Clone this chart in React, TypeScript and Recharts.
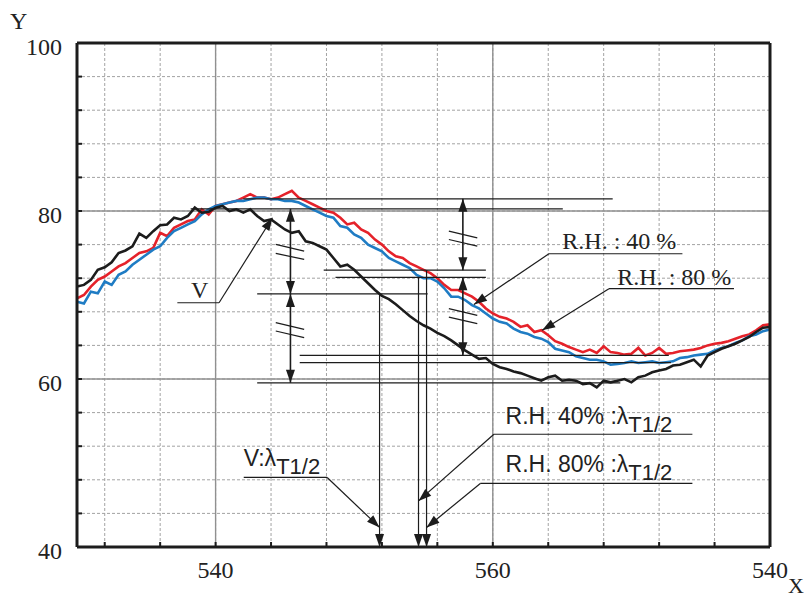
import { ComposedChart, Line, XAxis, YAxis, CartesianGrid, ReferenceLine } from 'recharts'

// sampling grid along X (every 0.5)
const X_VALUES = [
  530, 530.5, 531, 531.5, 532, 532.5, 533, 533.5, 534, 534.5,
  535, 535.5, 536, 536.5, 537, 537.5, 538, 538.5, 539, 539.5,
  540, 540.5, 541, 541.5, 542, 542.5, 543, 543.5, 544, 544.5,
  545, 545.5, 546, 546.5, 547, 547.5, 548, 548.5, 549, 549.5,
  550, 550.5, 551, 551.5, 552, 552.5, 553, 553.5, 554, 554.5,
  555, 555.5, 556, 556.5, 557, 557.5, 558, 558.5, 559, 559.5,
  560, 560.5, 561, 561.5, 562, 562.5, 563, 563.5, 564, 564.5,
  565, 565.5, 566, 566.5, 567, 567.5, 568, 568.5, 569, 569.5,
  570, 570.5, 571, 571.5, 572, 572.5, 573, 573.5, 574, 574.5,
  575, 575.5, 576, 576.5, 577, 577.5, 578, 578.5, 579, 579.5,
  580,
]

const V_VALUES = [
  71.0, 71.2, 71.8, 73.0, 73.3, 73.9, 75.0, 75.3, 75.8, 77.3,
  76.8, 77.6, 78.3, 78.4, 79.2, 79.0, 79.4, 80.4, 79.8, 79.9,
  80.4, 80.6, 80.0, 80.2, 79.8, 80.2, 79.4, 78.8, 79.0, 78.4,
  77.8, 77.4, 77.6, 76.4, 76.2, 75.8, 75.4, 74.4, 73.4, 73.6,
  73.0, 72.2, 71.4, 70.6, 69.9, 69.5, 68.9, 68.2, 67.5, 66.9,
  66.4, 66.0, 65.5, 65.1, 64.6, 64.0, 63.4, 62.9, 62.4, 62.5,
  61.8, 61.4, 61.2, 60.9, 60.7, 60.4, 60.1, 59.8, 60.2, 60.4,
  59.8, 59.9, 59.8, 59.4, 59.5, 59.0, 59.8, 59.6, 59.8, 60.0,
  59.6, 60.2, 60.4, 60.8, 61.0, 61.2, 61.6, 61.7, 62.0, 62.3,
  61.5, 62.8, 63.2, 63.6, 63.9, 64.2, 64.6, 65.0, 65.6, 66.1,
  66.2,
]

const RH40_VALUES = [
  69.6, 70.0, 71.0, 71.8, 72.2, 72.8, 73.4, 73.8, 74.4, 75.0,
  75.2, 75.6, 77.4, 77.0, 78.0, 78.4, 78.8, 79.0, 80.2, 79.6,
  80.6, 80.8, 81.0, 81.2, 81.6, 82.0, 81.6, 81.6, 81.4, 81.6,
  82.0, 82.4, 81.6, 81.2, 80.8, 80.4, 80.0, 79.8, 79.2, 78.4,
  78.6, 77.8, 77.4, 76.6, 76.0, 75.2, 74.6, 74.4, 73.8, 73.4,
  73.0, 72.6, 72.0, 71.2, 70.6, 70.6, 70.2, 69.8, 69.2, 68.4,
  67.8, 67.4, 67.2, 66.8, 66.2, 66.4, 65.6, 65.8, 65.2, 64.5,
  64.2, 63.8, 63.5, 63.2, 63.5, 63.1, 63.9, 63.2, 63.1, 62.9,
  63.0, 63.7, 62.8, 63.1, 63.7, 63.0, 63.1, 63.3, 63.4, 63.5,
  63.7, 64.0, 64.2, 64.3, 64.5, 64.8, 65.1, 65.3, 65.8, 66.4,
  66.5,
]

const RH80_VALUES = [
  69.2, 69.0, 70.4, 70.2, 71.6, 71.2, 72.4, 72.8, 73.6, 74.2,
  74.8, 75.4, 75.8, 76.8, 77.6, 78.0, 78.4, 78.8, 79.6, 80.2,
  80.6, 80.8, 81.0, 81.2, 81.2, 81.4, 81.6, 81.6, 81.4, 81.4,
  81.2, 81.2, 81.0, 80.6, 80.2, 79.8, 79.4, 79.2, 78.2, 78.0,
  77.2, 76.8, 76.0, 75.6, 75.2, 74.4, 74.0, 73.6, 73.2, 72.4,
  72.0, 72.0, 71.6, 70.8, 69.8, 69.8, 69.4, 68.8, 68.4, 67.8,
  67.2, 66.8, 66.6, 66.0, 65.6, 65.4, 65.0, 64.8, 64.4, 63.6,
  63.4, 63.2, 62.7, 62.5, 62.3, 62.3, 62.1, 61.7, 61.8, 61.9,
  62.1, 61.9, 62.0, 62.1, 61.9, 62.0, 62.1, 62.5, 62.6, 62.8,
  62.9, 63.0, 63.4, 63.7, 63.9, 64.3, 64.6, 65.1, 65.3, 65.7,
  65.9,
]

const X_TICKS = [
  532, 534, 536, 538, 540, 542, 544, 546, 548, 550, 552, 554, 556,
  558, 560, 562, 564, 566, 568, 570, 572, 574, 576, 578, 580,
]
const X_TICK_LABELS: Record<number, string> = { 540: '540', 560: '560', 580: '540' }
const Y_TICKS = [
  40, 42, 44, 46, 48, 50, 52, 54, 56, 58, 60, 62, 64, 66, 68, 70,
  72, 74, 76, 78, 80, 82, 84, 86, 88, 90, 92, 94, 96, 98, 100,
]
const Y_TICK_LABELS: Record<number, string> = { 40: '40', 60: '60', 80: '80', 100: '100' }

// annotation geometry, in data units
const LEVELS = [
  { y: 81.45, from: 542.0, to: 568.65 },
  { y: 80.26, from: 538.2, to: 565.05 },
  { y: 72.95, from: 547.8, to: 559.5 },
  { y: 72.1, from: 548.65, to: 559.5 },
  { y: 70.13, from: 543.0, to: 555.3 },
  { y: 62.82, from: 546.07, to: 572.7 },
  { y: 61.95, from: 546.07, to: 572.85 },
  { y: 59.55, from: 543.0, to: 569.2 },
]
const DROPS = [
  { x: 551.83, from: 70.13 },
  { x: 554.64, from: 72.1 },
  { x: 555.22, from: 72.95 },
]
const SPANS = [
  { x: 545.4, from: 80.26, to: 70.13 },
  { x: 545.4, from: 70.13, to: 59.55 },
  { x: 557.84, from: 81.45, to: 72.95 },
  { x: 557.84, from: 72.1, to: 62.82 },
]
const BREAKS = [
  [544.34, 76.02, 546.39, 75.22], [544.34, 74.95, 546.39, 74.24],
  [544.34, 66.71, 546.39, 65.91], [544.34, 65.71, 546.39, 64.92],
  [556.83, 77.6, 558.88, 76.81], [556.83, 76.61, 558.88, 75.81],
  [556.83, 68.37, 558.88, 67.57], [556.83, 67.37, 558.88, 66.59],
]

type Callout = {
  text: string
  sub?: string
  x1: number
  x2: number
  y: number
  tip: [number, number]
  leaderFromEnd: boolean
  serif: boolean
  dx: number
  lift: number
}

const CALLOUTS: Callout[] = [
  { text: 'V', x1: 537.24, x2: 540.25, y: 69.08, tip: [544.1, 79.2], leaderFromEnd: true, serif: true, dx: 13.7, lift: 5 },
  { text: 'R.H. : 40 %', x1: 564.05, x2: 573.68, y: 74.91, tip: [558.64, 68.88], leaderFromEnd: false, serif: true, dx: 13.4, lift: 5 },
  { text: 'R.H. : 80 %', x1: 568.38, x2: 577.4, y: 70.75, tip: [563.56, 65.79], leaderFromEnd: false, serif: true, dx: 8.4, lift: 3.5 },
  { text: 'V:λ', sub: 'T1/2', x1: 542.03, x2: 548.05, y: 48.28, tip: [551.83, 42.33], leaderFromEnd: true, serif: false, dx: 0, lift: 11.6 },
  { text: 'R.H. 40% :λ', sub: 'T1/2', x1: 560.08, x2: 574.4, y: 53.42, tip: [554.64, 45.49], leaderFromEnd: false, serif: false, dx: 11.7, lift: 10 },
  { text: 'R.H. 80% :λ', sub: 'T1/2', x1: 559.12, x2: 574.4, y: 47.58, tip: [555.22, 42.33], leaderFromEnd: false, serif: false, dx: 25, lift: 11 },
]

const INK = '#1c1c1c'
const SERIF = '"Liberation Serif", "DejaVu Serif", serif'
const SANS = '"Liberation Sans", Arial, sans-serif'

const data = X_VALUES.map((x, i) => ({
  x,
  v: V_VALUES[i],
  rh40: RH40_VALUES[i],
  rh80: RH80_VALUES[i],
}))

function headPoints(x1: number, y1: number, x2: number, y2: number, len: number, half: number) {
  const d = Math.hypot(x2 - x1, y2 - y1) || 1
  const ux = (x2 - x1) / d
  const uy = (y2 - y1) / d
  const bx = x2 - ux * len
  const by = y2 - uy * len
  return `${x2},${y2} ${bx - uy * half},${by + ux * half} ${bx + uy * half},${by - ux * half}`
}

const arrow = (both: boolean, width = 1.3) => (p: any) => (
  <g>
    <line x1={p.x1} y1={p.y1} x2={p.x2} y2={p.y2} stroke={INK} strokeWidth={width} />
    <polygon points={headPoints(p.x1, p.y1, p.x2, p.y2, 13, 4.5)} fill={INK} />
    {both && <polygon points={headPoints(p.x2, p.y2, p.x1, p.y1, 13, 4.5)} fill={INK} />}
  </g>
)

const calloutShape = (c: Callout) => (p: any) => (
  <g>
    <line x1={p.x1} y1={p.y1} x2={p.x2} y2={p.y2} stroke={INK} strokeWidth={1.2} />
    <text
      x={p.x1 + c.dx}
      y={p.y1 - c.lift}
      fill="#222"
      fontFamily={c.serif ? SERIF : SANS}
      fontSize={c.serif ? 24 : 23}
    >
      {c.text}
      {c.sub && (
        <tspan dy={8} fontSize={22}>
          {c.sub}
        </tspan>
      )}
    </text>
  </g>
)

const XTick = (props: any) => {
  const label = X_TICK_LABELS[props.payload.value]
  if (!label) return <g />
  return (
    <text x={props.x} y={props.y} dy={31} textAnchor="middle" fill="#222" fontFamily={SERIF} fontSize={24}>
      {label}
    </text>
  )
}

const YTick = (props: any) => {
  const label = Y_TICK_LABELS[props.payload.value]
  if (!label) return <g />
  return (
    <text x={props.x} y={props.y} dy={11.5} textAnchor="end" fill="#222" fontFamily={SERIF} fontSize={24}>
      {label}
    </text>
  )
}

export default function App() {
  return (
    <div style={{ position: 'absolute', left: 0, top: 0, background: '#fff' }}>
      <ComposedChart width={807} height={597} data={data} margin={{ top: 42, right: 36, left: 0, bottom: 0 }}>
        <CartesianGrid stroke="#a3a3a3" strokeDasharray="3 2" strokeWidth={1} />
        <CartesianGrid
          verticalValues={[540, 560]}
          horizontalValues={[60, 80]}
          stroke="#909090"
          strokeWidth={1.4}
        />
        <XAxis
          dataKey="x"
          type="number"
          domain={[530, 580]}
          ticks={X_TICKS}
          height={50}
          tickSize={-5}
          tickMargin={5}
          tick={XTick}
          tickLine={{ stroke: INK, strokeWidth: 2 }}
          axisLine={{ stroke: INK, strokeWidth: 3 }}
          label={() => (
            <text x={788} y={593} fill="#222" fontFamily={SERIF} fontSize={22}>
              X
            </text>
          )}
        />
        <XAxis
          xAxisId="top"
          orientation="top"
          dataKey="x"
          type="number"
          domain={[530, 580]}
          ticks={X_TICKS}
          height={1}
          tickSize={-5}
          tick={false}
          tickLine={{ stroke: INK, strokeWidth: 2 }}
          axisLine={{ stroke: INK, strokeWidth: 3 }}
        />
        <YAxis
          type="number"
          domain={[40, 100]}
          ticks={Y_TICKS}
          width={77}
          tickSize={-5}
          tickMargin={20}
          tick={YTick}
          tickLine={{ stroke: INK, strokeWidth: 2 }}
          axisLine={{ stroke: INK, strokeWidth: 3 }}
          label={() => (
            <text x={10} y={29} fill="#222" fontFamily={SERIF} fontSize={24}>
              Y
            </text>
          )}
        />
        <YAxis
          yAxisId="right"
          orientation="right"
          type="number"
          domain={[40, 100]}
          ticks={Y_TICKS}
          width={1}
          tickSize={-5}
          tick={false}
          tickLine={{ stroke: INK, strokeWidth: 2 }}
          axisLine={{ stroke: INK, strokeWidth: 3 }}
        />

        <Line dataKey="rh40" type="linear" stroke="#e5222a" strokeWidth={2.6} dot={false} isAnimationActive={false} />
        <Line dataKey="rh80" type="linear" stroke="#1f7cc4" strokeWidth={2.6} dot={false} isAnimationActive={false} />
        <Line dataKey="v" type="linear" stroke={INK} strokeWidth={2.6} dot={false} isAnimationActive={false} />

        {LEVELS.map((l, i) => (
          <ReferenceLine
            key={`lv${i}`}
            segment={[{ x: l.from, y: l.y }, { x: l.to, y: l.y }]}
            stroke={INK}
            strokeWidth={1.2}
          />
        ))}
        {DROPS.map((d, i) => (
          <ReferenceLine
            key={`dr${i}`}
            segment={[{ x: d.x, y: d.from }, { x: d.x, y: 40 }]}
            shape={arrow(false, 1.2)}
          />
        ))}
        {SPANS.map((s, i) => (
          <ReferenceLine
            key={`sp${i}`}
            segment={[{ x: s.x, y: s.from }, { x: s.x, y: s.to }]}
            shape={arrow(true, 1.6)}
          />
        ))}
        {BREAKS.map((b, i) => (
          <ReferenceLine
            key={`bk${i}`}
            segment={[{ x: b[0], y: b[1] }, { x: b[2], y: b[3] }]}
            stroke={INK}
            strokeWidth={1.2}
          />
        ))}
        {CALLOUTS.map((c, i) => (
          <ReferenceLine
            key={`cu${i}`}
            segment={[{ x: c.x1, y: c.y }, { x: c.x2, y: c.y }]}
            shape={calloutShape(c)}
          />
        ))}
        {CALLOUTS.map((c, i) => (
          <ReferenceLine
            key={`cl${i}`}
            segment={[{ x: c.leaderFromEnd ? c.x2 : c.x1, y: c.y }, { x: c.tip[0], y: c.tip[1] }]}
            shape={arrow(false, 1.2)}
          />
        ))}
      </ComposedChart>
    </div>
  )
}
